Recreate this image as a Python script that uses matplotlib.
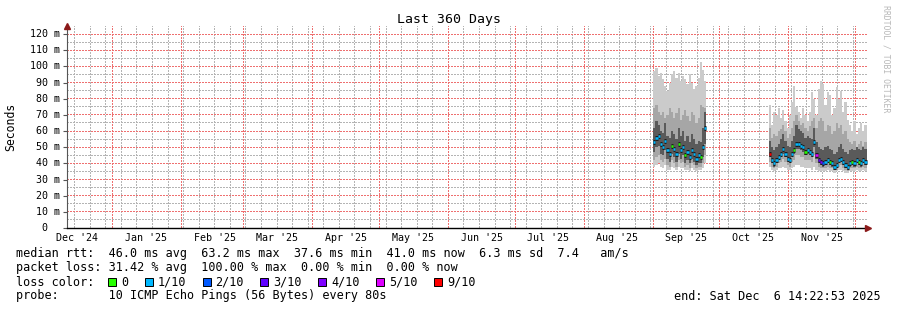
import matplotlib
matplotlib.use("Agg")
import matplotlib.pyplot as plt
import matplotlib.dates as mdates
import matplotlib.transforms as mtransforms
from matplotlib.patches import Rectangle
import numpy as np
import pandas as pd
from datetime import datetime

# ---- data (ms), one value per day ----
t_start = datetime(2024, 12, 11, 14, 22, 53)
t_end = datetime(2025, 12, 6, 14, 22, 53)

seg1_days = pd.date_range("2025-09-01", periods=24, freq="D")
med1 = [53, 56, 57, 52, 50, 54, 48, 46, 51, 49, 46, 52, 48, 50, 45, 47, 44, 48, 46, 43, 45, 44, 50, 62]
lo1 = [38, 39, 40, 38, 37, 39, 36, 36, 38, 37, 36, 38, 37, 37, 36, 36, 35, 37, 36, 35, 36, 36, 37, 40]
p10_1 = [42, 44, 45, 42, 41, 43, 39, 38, 42, 40, 38, 42, 40, 41, 38, 39, 37, 40, 39, 37, 38, 38, 40, 45]
p25_1 = [47, 50, 51, 46, 45, 48, 43, 41, 46, 44, 41, 46, 43, 45, 40, 42, 40, 43, 41, 39, 40, 40, 44, 52]
p75_1 = [62, 66, 64, 60, 59, 65, 57, 56, 60, 58, 55, 62, 57, 60, 54, 57, 53, 58, 55, 52, 54, 53, 62, 72]
p90_1 = [74, 76, 72, 70, 72, 68, 70, 74, 72, 68, 71, 74, 67, 70, 73, 69, 66, 72, 70, 65, 68, 76, 75, 74]
max1 = [97, 99, 94, 96, 92, 88, 85, 90, 95, 97, 93, 96, 91, 94, 92, 89, 95, 90, 86, 88, 93, 103, 98, 91]
loss1 = [1, 1, 1, 1, 1, 1, 1, 1, 0, 1, 1, 0, 1, 1, 0, 1, 1, 1, 1, 1, 1, 0, 1, 1]

seg2_days = pd.date_range("2025-10-23", periods=44, freq="D")
med2 = [46, 42, 40, 42, 44, 46, 49, 46, 43, 42, 46, 48, 52, 52, 51, 50, 47, 48, 47, 46, 53, 45,
        42, 41, 40, 41, 42, 41, 40, 38, 39, 42, 43, 41, 39, 38, 40, 41, 40, 42, 41, 40, 42, 41]
lo2 = [38, 36, 35, 36, 37, 37, 38, 37, 36, 36, 37, 38, 39, 39, 38, 38, 37, 37, 37, 36, 38, 36,
       35, 35, 35, 35, 36, 35, 35, 34, 35, 36, 36, 35, 34, 34, 35, 35, 35, 36, 35, 35, 36, 35]
p10_2 = [41, 38, 37, 38, 40, 41, 43, 41, 39, 38, 41, 42, 45, 45, 44, 44, 42, 42, 42, 41, 45, 40,
         38, 37, 37, 37, 38, 37, 37, 36, 36, 38, 39, 37, 36, 35, 37, 37, 37, 38, 37, 37, 38, 37]
p25_2 = [44, 40, 38, 40, 42, 44, 46, 44, 41, 40, 44, 46, 49, 49, 48, 47, 45, 46, 45, 44, 50, 43,
         40, 39, 38, 39, 40, 39, 38, 37, 37, 40, 41, 39, 37, 36, 38, 39, 38, 40, 39, 38, 40, 39]
p75_2 = [54, 50, 48, 50, 52, 55, 58, 54, 51, 50, 54, 57, 64, 61, 60, 59, 56, 57, 56, 55, 62, 53,
         50, 49, 48, 50, 51, 49, 48, 46, 47, 50, 52, 49, 47, 46, 48, 49, 48, 50, 49, 48, 50, 49]
p90_2 = [62, 56, 58, 57, 60, 61, 64, 60, 56, 58, 62, 66, 70, 66, 64, 65, 62, 60, 63, 66, 68, 62,
         66, 68, 66, 60, 64, 63, 58, 60, 65, 62, 64, 58, 60, 55, 53, 52, 54, 50, 52, 54, 51, 53]
max2 = [76, 64, 72, 70, 74, 68, 73, 66, 62, 70, 78, 88, 75, 72, 68, 74, 70, 66, 72, 84, 80, 70,
        86, 91, 89, 76, 84, 82, 70, 74, 87, 80, 85, 72, 78, 67, 64, 60, 66, 58, 62, 65, 60, 64]
loss2 = [9, 1, 1, 1, 1, 1, 1, 1, 1, 1, 1, 0, 1, 1, 1, 1, 0, 1, 1, 1, 1, 5,
         3, 4, 2, 1, 1, 0, 1, 1, 1, 1, 1, 1, 1, 1, 1, 0, 1, 1, 0, 1, 1, 1]

loss_labels = ["0", "1/10", "2/10", "3/10", "4/10", "5/10", "9/10"]
loss_levels = [0, 1, 2, 3, 4, 5, 9]
loss_colors = ["#26ff00", "#00b8ff", "#0059ff", "#5e00ff", "#7e00ff", "#dd00ff", "#ff0000"]

y_ticks = list(range(0, 121, 10))

legend_lines = [
    "median rtt:  46.0 ms avg  63.2 ms max  37.6 ms min  41.0 ms now  6.3 ms sd  7.4   am/s",
    "packet loss: 31.42 % avg  100.00 % max  0.00 % min  0.00 % now",
    "loss color:",
    "probe:       10 ICMP Echo Pings (56 Bytes) every 80s",
]
end_text = "end: Sat Dec  6 14:22:53 2025"

# ---- figure ----
W, H = 897, 310
MONO = "DejaVu Sans Mono"
fig = plt.figure(figsize=(W / 100, H / 100), dpi=100)
fig.patch.set_facecolor("white")


def fx(px):
    return px / W


def fy(py):
    return 1 - py / H


ax = fig.add_axes([fx(67), fy(228), fx(868) - fx(67), fy(26) - fy(228)])
ax.set_facecolor("white")
x0, x1 = mdates.date2num(t_start), mdates.date2num(t_end)
ax.set_xlim(x0, x1)
ax.set_ylim(0, 125)


def snap_x(v):
    # move a vertical grid line onto the nearest pixel centre
    px = ax.transData.transform((v, 0))[0]
    return ax.transData.inverted().transform((np.floor(px) + 0.5, 0))[0]


def snap_y(v):
    py = ax.transData.transform((x0, v))[1]
    return ax.transData.inverted().transform((0, np.floor(py) + 0.5))[1]


# dotted grid, red month/10 ms lines on top of the grey ones
grid_kw = dict(ls=(0, (1.44, 2.16)), lw=0.6, antialiased=False, snap=False)
month_locs = [v for v in mdates.MonthLocator().tick_values(t_start, t_end) if x0 < v < x1]
week_locs = [v for v in mdates.WeekdayLocator(byweekday=mdates.SU).tick_values(t_start, t_end)
             if x0 < v < x1]
for v in week_locs:
    ax.axvline(snap_x(v), color="#b4b4b4", zorder=0.5, **grid_kw)
for v in range(5, 125, 10):
    ax.axhline(snap_y(v), color="#b4b4b4", zorder=0.5, **grid_kw)
for v in month_locs:
    ax.axvline(snap_x(v), color="#ee7070", zorder=0.6, **grid_kw)
for v in y_ticks[1:]:
    ax.axhline(snap_y(v), color="#ee7070", zorder=0.6, **grid_kw)

ax.set_xticks([])
ax.set_yticks(y_ticks)
ax.tick_params(axis="y", which="major", length=3, color="#555555", labelleft=False)

for s in ["top", "right"]:
    ax.spines[s].set_visible(False)
ax.spines["left"].set_color("#555555")
ax.spines["left"].set_linewidth(0.8)
ax.spines["bottom"].set_color("black")
ax.spines["bottom"].set_linewidth(1.0)

color_of = dict(zip(loss_levels, loss_colors))

# smoke + median
for days, lo, p10, p25, p75, p90, mx, med, loss in [
    (seg1_days, lo1, p10_1, p25_1, p75_1, p90_1, max1, med1, loss1),
    (seg2_days, lo2, p10_2, p25_2, p75_2, p90_2, max2, med2, loss2),
]:
    x = mdates.date2num(days.to_pydatetime())
    lo, p10, p25, p75, p90, mx, med = map(np.asarray, (lo, p10, p25, p75, p90, mx, med))
    ax.bar(x, mx - lo, bottom=lo, width=1.0, align="edge", color="#cbcbcb", lw=0, zorder=2)
    ax.bar(x, p90 - p10, bottom=p10, width=1.0, align="edge", color="#a6a6a6", lw=0, zorder=3)
    ax.bar(x, p75 - p25, bottom=p25, width=1.0, align="edge", color="#5a5a5a", lw=0, zorder=4)
    ax.hlines(med, x, x + 1, colors="#1a1a1a", lw=3.5, zorder=5)
    ax.hlines(med, x, x + 1, colors=[color_of[v] for v in loss], lw=1.8, zorder=6)

# arrows
ax.plot([0], [1.0], transform=ax.transAxes, marker="^", ms=4.5, color="#8b1a1a",
        clip_on=False, zorder=10)
ax.plot([1.0], [0], transform=ax.transAxes, marker=">", ms=4.5, color="#8b1a1a",
        clip_on=False, zorder=10)

# y tick labels (rrdtool style, right aligned with unit)
ylab_tr = mtransforms.offset_copy(ax.get_yaxis_transform(), fig=fig, x=-7, y=0, units="dots")
zero_tr = mtransforms.offset_copy(ax.get_yaxis_transform(), fig=fig, x=-20, y=0, units="dots")
for v in y_ticks:
    if v == 0:
        ax.text(0, v, "0", transform=zero_tr, ha="right", va="center", fontsize=7.2, family=MONO)
    else:
        ax.text(0, v, f"{v} m", transform=ylab_tr, ha="right", va="center", fontsize=7.2,
                family=MONO)

# month labels at mid-month
for m in pd.date_range("2024-12-01", "2025-11-01", freq="MS"):
    mid = datetime(m.year, m.month, 16)
    ax.text(mdates.date2num(mid), fy(238), f"{mid:%b} '{mid:%y}",
            transform=mtransforms.blended_transform_factory(ax.transData, fig.transFigure),
            ha="center", va="center", fontsize=7.2, family=MONO)

# title, axis label, watermark
fig.text(0.5, fy(19), "Last 360 Days", ha="center", va="center", fontsize=9.5, family=MONO)
fig.text(fx(11), fy(127), "Seconds", rotation=90, ha="center", va="center", fontsize=8.3,
         family=MONO)
fig.text(fx(886), fy(59), "RRDTOOL / TOBI OETIKER", rotation=270, ha="center", va="center",
         fontsize=5.9, family=MONO, color="#b8b8b8")

# legend lines
line_y = [254, 268, 282, 296]
for txt, py in zip(legend_lines, line_y):
    fig.text(fx(16), fy(py), txt, ha="left", va="center", fontsize=8.5, family=MONO)
fig.text(fx(881), fy(296), end_text, ha="right", va="center", fontsize=8.5, family=MONO)

bx = 108
for lab, col in zip(loss_labels, loss_colors):
    fig.add_artist(Rectangle((fx(bx), fy(286)), fx(8), fy(278) - fy(286), transform=fig.transFigure,
                             facecolor=col, edgecolor="black", lw=0.7))
    lx = bx + 13
    fig.text(fx(lx), fy(282), lab, ha="left", va="center", fontsize=8.5, family=MONO)
    bx = lx + len(lab) * 7.1 + 16.5

fig.savefig("out.png", dpi=100)
